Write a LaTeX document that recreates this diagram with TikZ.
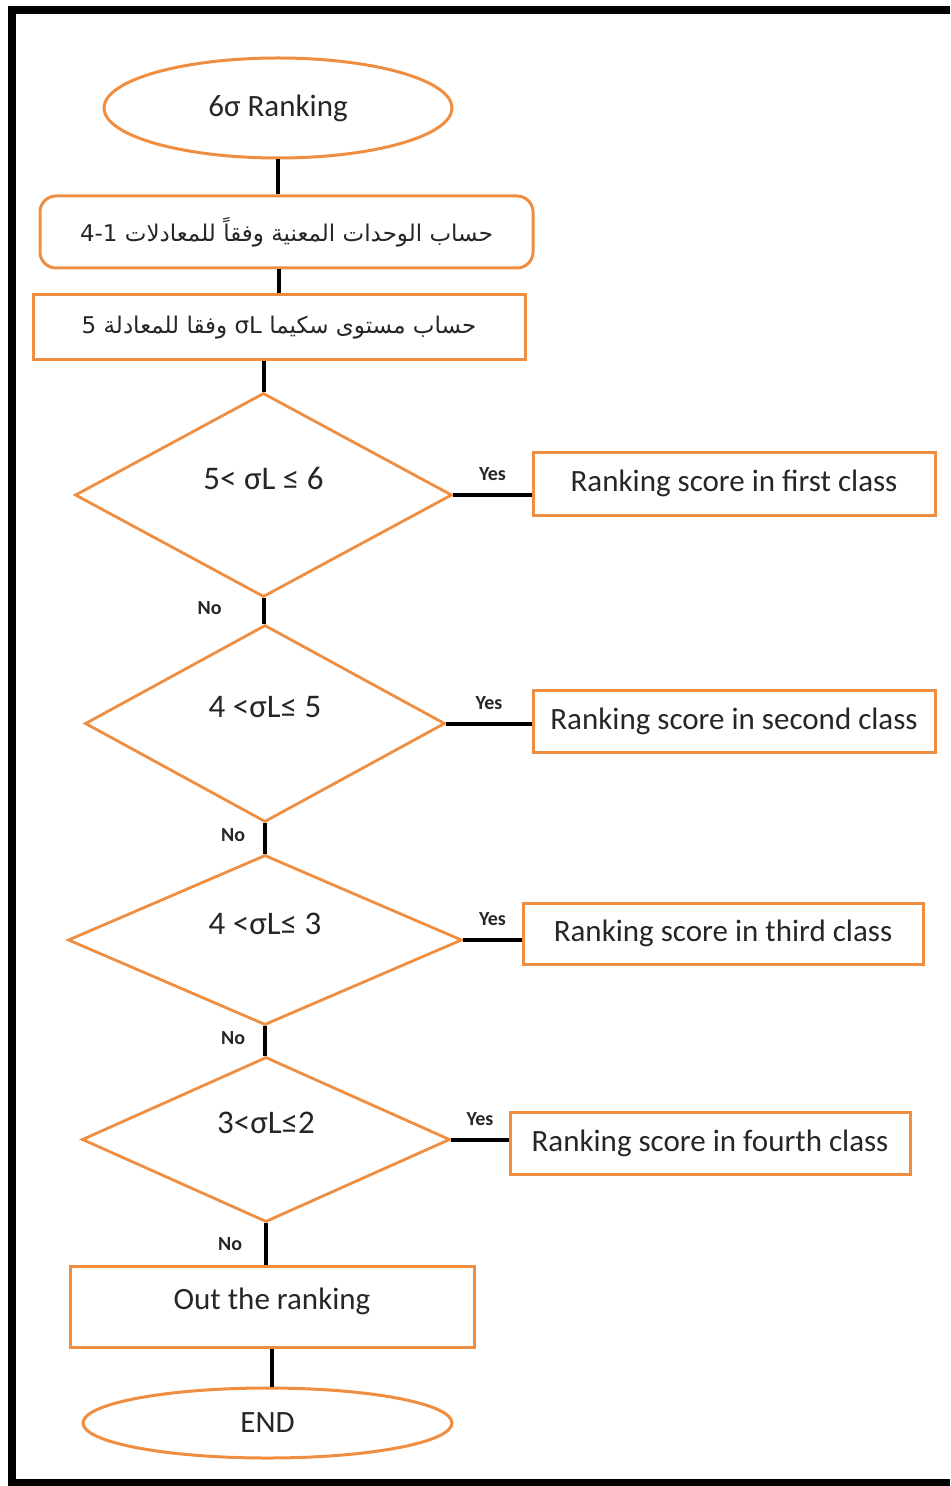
\documentclass[tikz,border=0pt]{standalone}
\usepackage{fontspec}
\setmainfont{Carlito}
\newfontfamily\arabicfont[Script=Arabic]{DejaVu Sans}
\TeXXeTstate=1
\usetikzlibrary{shapes.geometric}

\definecolor{flowor}{RGB}{239,142,64}

\begin{document}
\begin{tikzpicture}[x=0.5pt,y=-0.5pt,
every node/.style={font=\fontsize{15.5}{18}\selectfont,text=black!85},
term/.style={ellipse,draw=flowor,line width=1.5pt,inner sep=0pt},
proc/.style={rectangle,draw=flowor,line width=1.5pt,inner sep=0pt},
test/.style={diamond,draw=flowor,line width=1.4pt,inner sep=0pt,
  font=\fontsize{16.5}{19}\selectfont,text height=11pt,text depth=17pt},
link/.style={draw=black,line width=2pt},
tag/.style={font=\fontsize{10}{11}\selectfont\bfseries,inner sep=1pt}]
\useasboundingbox (0,0) rectangle (950,1486);
\draw[line width=4pt] (950,10.5) -- (11.5,10.5) -- (11.5,1483) -- (950,1483);

\node[term,minimum width=174pt,minimum height=50pt] (start) at (278,108) {6σ Ranking};
\node[proc,rounded corners=8pt,minimum width=246.5pt,minimum height=36pt] (units) at (286.5,232)
  {\fontsize{11.5}{13}\arabicfont\beginR حساب الوحدات المعنية وفقاً للمعادلات \beginL4-1\endL\endR};
\node[proc,minimum width=246pt,minimum height=32.5pt] (level) at (279,327.5)
  {\fontsize{11.5}{13}\arabicfont\beginR حساب مستوى سكيما \beginL σL\endL\ وفقا للمعادلة \beginL5\endL\endR};

\node[test,minimum width=188.5pt,minimum height=102pt] (t1) at (263.5,495) {5< σL ≤ 6};
\node[test,minimum width=180pt,minimum height=98.5pt] (t2) at (265,723.5) {4 <σL≤ 5};
\node[test,minimum width=197pt,minimum height=85pt] (t3) at (265,940) {4 <σL≤ 3};
\node[test,minimum width=184pt,minimum height=82.5pt] (t4) at (266,1139.5) {3<σL≤2};

\node[proc,minimum width=201pt,minimum height=31.5pt] (c1) at (734,483.5) {Ranking score in first class};
\node[proc,minimum width=201pt,minimum height=31pt] (c2) at (734,721) {Ranking score in second class};
\node[proc,minimum width=200pt,minimum height=30.5pt] (c3) at (723,933.5) {Ranking score in third class};
\node[proc,minimum width=200pt,minimum height=31pt] (c4) at (710,1143) {Ranking score in fourth class};

\node[proc,minimum width=202pt,minimum height=40.5pt,text height=11pt,text depth=8pt] (out) at (272,1306.5) {Out the ranking};
\node[term,minimum width=184.5pt,minimum height=35pt] (stop) at (267.5,1423) {END};

\draw[link] (start.south) -- (start.south |- units.north);
\draw[link] (level.north) -- (level.north |- units.south);
\draw[link] (t1.north) -- (t1.north |- level.south);
\draw[link] (t1.south) -- (t1.south |- t2.north) node[tag,pos=0.4,left=19pt] {No};
\draw[link] (t2.south) -- (t2.south |- t3.north) node[tag,pos=0.4,left=8pt] {No};
\draw[link] (t3.south) -- (t3.south |- t4.north) node[tag,pos=0.4,left=8pt] {No};
\draw[link] (t4.south) -- (t4.south |- out.north) node[tag,pos=0.5,left=10pt] {No};
\draw[link] (out.south) -- (out.south |- stop.north);

\draw[link] (t1.east) -- (t1.east -| c1.west) node[tag,midway,above=5pt] {Yes};
\draw[link] (t2.east) -- (t2.east -| c2.west) node[tag,midway,above=5pt] {Yes};
\draw[link] (t3.east) -- (t3.east -| c3.west) node[tag,midway,above=5pt] {Yes};
\draw[link] (t4.east) -- (t4.east -| c4.west) node[tag,midway,above=5pt] {Yes};
\end{tikzpicture}
\end{document}
